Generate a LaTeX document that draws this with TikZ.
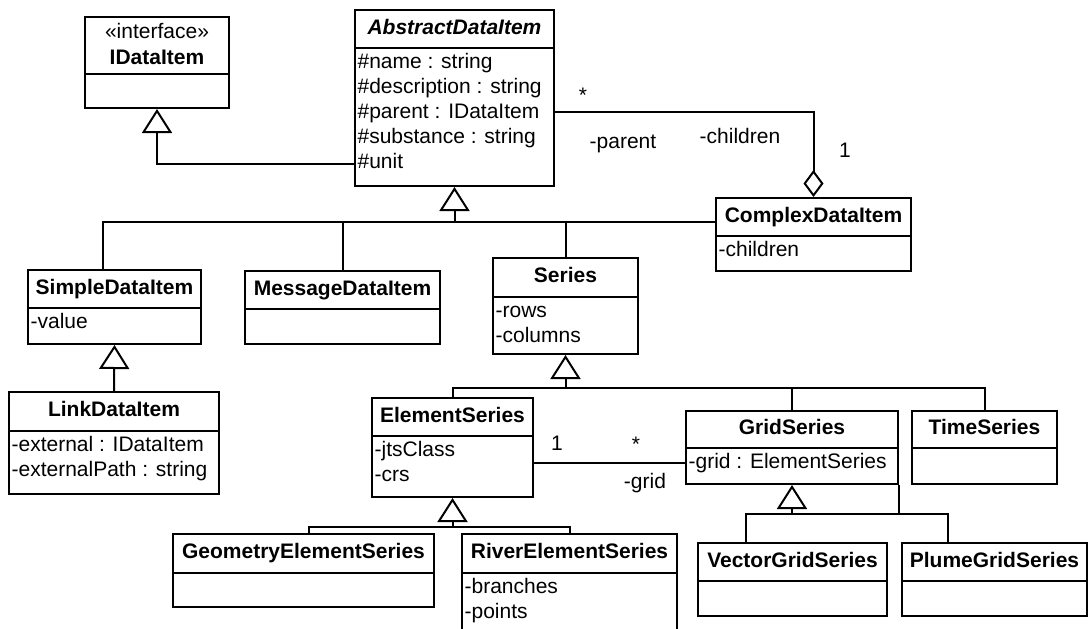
\documentclass[tikz,border=0pt]{standalone}
\usepackage{fontspec}
\setmainfont{Liberation Sans}
\usetikzlibrary{arrows.meta,fit}
\newcommand{\umlclass}[7]{%
	\node[classbox, fit={(#2,#3) (#4,#6)}] (#1) {};
	\draw (#2,#5) -- (#4,#5);
	\node[classtitle] at ({(#2+#4)/2}, {(#3+#5)/2+5}) {#7};
}
\newcommand{\umlattrs}[3]{%
	\foreach \attrline [count=\k] in {#3}
		\node[attr] at (#1, {#2+20+25*(\k-1)}) {\attrline};
}
\begin{document}
\begin{tikzpicture}[x=0.5pt, y=-0.5pt, line width=1pt,
	classbox/.style={draw, inner sep=0pt},
	classtitle/.style={anchor=base, inner sep=0pt, font=\fontsize{10.5}{12.5}\selectfont\bfseries},
	attr/.style={anchor=base west, inner sep=0pt, xshift=0.8pt, font=\fontsize{10.5}{12.5}\selectfont},
	lbl/.style={anchor=base, inner sep=0pt, font=\fontsize{10.5}{12.5}\selectfont},
	inherit/.style={-{Triangle[open, length=12pt, width=15pt]}},
	aggr/.style={-{Diamond[open, length=13.5pt, width=10pt]}}]
				\clip (0,0) rectangle (1089,628);
				\umlclass{idata}{85}{17}{229}{74}{108}{}
				\node[lbl] at (157,38) {«interface»};
				\node[classtitle] at (157,64) {IDataItem};
				\umlclass{abstract}{355}{10}{554}{48}{186}{\itshape AbstractDataItem}
				\umlattrs{355}{48}{\#name : string, \#description : string, \#parent : IDataItem, \#substance : string, \#unit}
				\umlclass{complex}{716}{198}{911}{236}{271}{ComplexDataItem}
				\umlattrs{716}{236}{-children}
				\umlclass{simple}{28}{270}{201}{308}{344}{SimpleDataItem}
				\umlattrs{28}{308}{-value}
				\umlclass{message}{245}{271}{440}{309}{344}{MessageDataItem}
				\umlclass{series}{493}{258}{638}{297}{354}{Series}
				\umlattrs{493}{297}{-rows, -columns}
				\umlclass{link}{9}{392}{219}{431}{494}{LinkDataItem}
				\umlattrs{9}{431}{-external : IDataItem, -externalPath : string}
				\umlclass{element}{372}{398}{533}{436}{497}{ElementSeries}
				\umlattrs{372}{436}{-jtsClass, -crs}
				\umlclass{grid}{686}{411}{898}{448}{484}{GridSeries}
				\umlattrs{686}{448}{-grid : ElementSeries}
				\umlclass{timeser}{912}{411}{1057}{448}{484}{TimeSeries}
				\umlclass{geometry}{173}{534}{434}{573}{607}{GeometryElementSeries}
				\umlclass{river}{462}{534}{677}{573}{650}{RiverElementSeries}
				\umlattrs{462}{573}{-branches, -points}
				\umlclass{vector}{698}{543}{887}{581}{616}{VectorGridSeries}
				\umlclass{plume}{902}{543}{1087}{581}{616}{PlumeGridSeries}
				\draw[inherit] (abstract.west |- 0,164) -| (idata.south);
				\draw[aggr] (abstract.east |- 0,112) -| (complex.north);
				\node[lbl] at (583,102) {*};
				\node[lbl] at (623,148) {-parent};
				\node[lbl] at (740,143) {-children};
				\node[lbl] at (845,157) {1};
				\coordinate (j1) at (abstract.south |- 0,222);
				\draw[inherit] (j1) -- (abstract.south);
				\draw (simple.north -| 103,0) |- (complex.west |- j1);
				\draw (message.north) -- (message.north |- j1);
				\draw (series.north) -- (series.north |- j1);
				\draw[inherit] (link.north) -- (simple.south);
				\coordinate (j2) at (series.south |- 0,388);
				\draw[inherit] (j2) -- (series.south);
				\draw (element.north) |- (j2) -| (timeser.north);
				\draw (grid.north) -- (grid.north |- j2);
				\coordinate (j3) at (element.south |- 0,527);
				\draw[inherit] (j3) -- (element.south);
				\draw (geometry.north -| 309,0) |- (j3) -| (river.north);
				\coordinate (j4) at (grid.south |- 0,514);
				\draw[inherit] (j4) -- (grid.south);
				\draw (vector.north -| 746,0) |- (j4) -| (plume.north -| 948,0);
				\draw (grid.south east) -- (grid.south east |- j4);
				\draw (element.east |- 0,463) -- (grid.west |- 0,463);
				\node[lbl] at (557,450) {1};
				\node[lbl] at (636,451) {*};
				\node[lbl] at (645,488) {-grid};
			\end{tikzpicture}
\end{document}
